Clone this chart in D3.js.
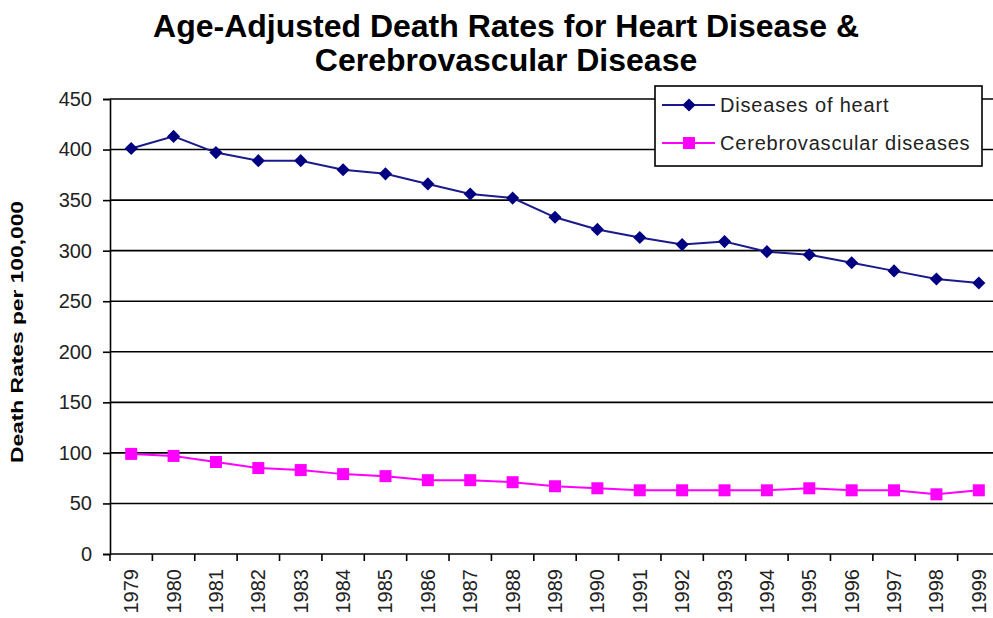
<!DOCTYPE html>
<html>
<head>
<meta charset="utf-8">
<script src="https://cdn.jsdelivr.net/npm/d3@7"></script>
<style>
  body { margin: 0; background: #fff; }
  svg { display: block; font-family: Arial, "Liberation Sans", sans-serif; }
</style>
</head>
<body>
<div id="chart"></div>
<script>
// data
var years = ['1979', '1980', '1981', '1982', '1983', '1984', '1985', '1986', '1987', '1988', '1989',
             '1990', '1991', '1992', '1993', '1994', '1995', '1996', '1997', '1998', '1999'];
var heart = [401, 413, 397, 389, 389, 380, 376, 366, 356, 352, 333,
             321, 313, 306, 309, 299, 296, 288, 280, 272, 268];
var cerebro = [99, 97, 91, 85, 83, 79, 77, 73, 73, 71, 67,
               65, 63, 63, 63, 63, 65, 63, 63, 59, 63];
var yTicks = [0, 50, 100, 150, 200, 250, 300, 350, 400, 450];
var seriesNames = ['Diseases of heart', 'Cerebrovascular diseases'];

var width = 993, height = 618;
var margin = { top: 99, left: 110, bottom: 64 };
var plotRight = 1000; // plot runs slightly past the window edge
var font = 'Arial, "Liberation Sans", sans-serif';

var svg = d3.select('#chart').append('svg')
    .attr('width', width)
    .attr('height', height);

// title
svg.append('text')
    .attr('x', 506).attr('y', 37)
    .attr('text-anchor', 'middle')
    .attr('font-size', 32).attr('font-weight', 'bold')
    .text('Age-Adjusted Death Rates for Heart Disease &');
svg.append('text')
    .attr('x', 506).attr('y', 71)
    .attr('text-anchor', 'middle')
    .attr('font-size', 32).attr('font-weight', 'bold')
    .text('Cerebrovascular Disease');

var x = d3.scaleBand().domain(years).range([margin.left, plotRight]);
var y = d3.scaleLinear().domain([0, 450]).range([height - margin.bottom, margin.top]);

// grid lines
svg.append('g').selectAll('line')
    .data(yTicks.filter(function(d) { return d > 0; }))
    .enter().append('line')
    .attr('x1', margin.left).attr('x2', width)
    .attr('y1', function(d) { return y(d); })
    .attr('y2', function(d) { return y(d); })
    .attr('stroke', '#000').attr('stroke-width', 1.6);

// y axis
var yAxis = svg.append('g')
    .attr('transform', 'translate(' + margin.left + ',0)')
    .call(d3.axisLeft(y).tickValues(yTicks).tickSize(7).tickPadding(11));
yAxis.select('.domain').attr('stroke-width', 1.6);
yAxis.selectAll('.tick line').attr('stroke-width', 1.6);
yAxis.selectAll('text').attr('font-size', 20).attr('fill', '#222')
    .attr('font-family', font);

// x axis
var xAxis = svg.append('g')
    .attr('transform', 'translate(0,' + y(0) + ')')
    .call(d3.axisBottom(x).tickSize(0).tickPadding(0));
xAxis.select('.domain').attr('stroke-width', 1.6).attr('d', 'M' + margin.left + ',0H' + width);
xAxis.selectAll('.tick text')
    .attr('font-size', 20).attr('fill', '#222')
    .attr('font-family', font)
    .attr('transform', 'rotate(-90)')
    .attr('text-anchor', 'end')
    .attr('x', -15).attr('y', 0).attr('dy', '0.35em');
// ticks at category boundaries
svg.append('g').selectAll('line')
    .data(years)
    .enter().append('line')
    .attr('x1', function(d) { return x(d); })
    .attr('x2', function(d) { return x(d); })
    .attr('y1', y(0)).attr('y2', y(0) + 7)
    .attr('stroke', '#000').attr('stroke-width', 1.6);

// y axis label
svg.append('text')
    .attr('transform', 'translate(23,332) rotate(-90)')
    .attr('text-anchor', 'middle')
    .attr('font-size', 16).attr('font-weight', 'bold')
    .attr('textLength', 262).attr('lengthAdjust', 'spacingAndGlyphs')
    .text('Death Rates per 100,000');

var cx = function(d, i) { return x(years[i]) + x.bandwidth() / 2; };
var line = d3.line()
    .x(function(d, i) { return cx(d, i); })
    .y(function(d) { return y(d); });

// heart disease
svg.append('path').datum(heart)
    .attr('d', line).attr('fill', 'none')
    .attr('stroke', '#1a1a8a').attr('stroke-width', 2);
svg.append('g').selectAll('path')
    .data(heart).enter().append('path')
    .attr('d', d3.symbol().type(d3.symbolDiamond2).size(110))
    .attr('transform', function(d, i) { return 'translate(' + cx(d, i) + ',' + y(d) + ')'; })
    .attr('fill', '#000080');

// cerebrovascular
svg.append('path').datum(cerebro)
    .attr('d', line).attr('fill', 'none')
    .attr('stroke', '#ff00ff').attr('stroke-width', 2);
svg.append('g').selectAll('rect')
    .data(cerebro).enter().append('rect')
    .attr('x', function(d, i) { return cx(d, i) - 6; })
    .attr('y', function(d) { return y(d) - 6; })
    .attr('width', 12).attr('height', 12)
    .attr('fill', '#ff00ff');

// legend
var legend = svg.append('g').attr('transform', 'translate(655,86)');
legend.append('rect')
    .attr('width', 327).attr('height', 80)
    .attr('fill', '#fff').attr('stroke', '#000').attr('stroke-width', 1.6);
var rows = legend.selectAll('g.row')
    .data(seriesNames).enter().append('g')
    .attr('class', 'row')
    .attr('transform', function(d, i) { return 'translate(0,' + (19 + i * 38) + ')'; });
rows.append('line')
    .attr('x1', 7).attr('x2', 60)
    .attr('stroke', function(d, i) { return i === 0 ? '#1a1a8a' : '#ff00ff'; })
    .attr('stroke-width', 2);
rows.each(function(d, i) {
  var g = d3.select(this);
  if (i === 0) {
    g.append('path')
        .attr('d', d3.symbol().type(d3.symbolDiamond2).size(110))
        .attr('transform', 'translate(34,0)')
        .attr('fill', '#000080');
  } else {
    g.append('rect')
        .attr('x', 28).attr('y', -6).attr('width', 12).attr('height', 12)
        .attr('fill', '#ff00ff');
  }
});
rows.append('text')
    .attr('x', 65).attr('dy', '0.35em')
    .attr('font-size', 20).attr('letter-spacing', 0.8).attr('fill', '#222')
    .text(function(d) { return d; });
</script>
</body>
</html>
